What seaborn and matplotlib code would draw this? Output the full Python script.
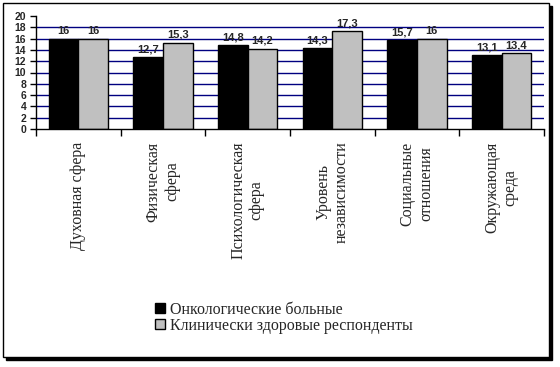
import numpy as np
import pandas as pd
import matplotlib
matplotlib.use("Agg")
import matplotlib.pyplot as plt
import seaborn as sns
from matplotlib.patches import Rectangle

# chart data
categories = ["Духовная сфера", "Физическая\nсфера", "Психологическая\nсфера",
              "Уровень\nнезависимости", "Социальные\nотношения", "Окружающая\nсреда"]
onco = [16, 12.7, 14.8, 14.3, 15.7, 13.1]
healthy = [16, 15.3, 14.2, 17.3, 16, 13.4]
series_names = ["Онкологические больные", "Клинически здоровые респонденты"]
y_ticks = [0, 2, 4, 6, 8, 10, 12, 14, 16, 18, 20]

df = pd.DataFrame({
    "category": categories * 2,
    "value": onco + healthy,
    "group": [series_names[0]] * len(categories) + [series_names[1]] * len(categories),
})

sns.set_style("white")
plt.rcParams["font.family"] = ["Liberation Serif", "DejaVu Serif"]

fig = plt.figure(figsize=(5.6, 3.67), dpi=100)

# outer frame with shadow
W, H = 560, 367
fig.patches.append(Rectangle((6 / W, 1 - 360 / H), 546 / W, 354 / H, transform=fig.transFigure,
                             facecolor="black", edgecolor="black", zorder=-2))
fig.patches.append(Rectangle((3 / W, 1 - 357 / H), 546 / W, 354 / H, transform=fig.transFigure,
                             facecolor="white", edgecolor="black", lw=1, zorder=-1))

ax = fig.add_axes([36 / W, 1 - 129 / H, 508 / W, 113 / H])
ax.set_facecolor("none")
ax.set_zorder(1)

sns.barplot(data=df, x="category", y="value", hue="group",
            palette=["black", "#c0c0c0"], edgecolor="black", linewidth=1,
            width=0.7, gap=0, ax=ax, legend=True)

for cont in ax.containers:
    labels = [("%g" % b.get_height()).replace(".", ",") for b in cont]
    ax.bar_label(cont, labels=labels, padding=2, fontsize=8, fontweight="bold",
                 family="Liberation Sans")

ax.set_ylim(0, 20)
ax.set_xlim(-0.5, len(categories) - 0.5)
ax.set_yticks(y_ticks)
ax.set_yticklabels([str(v) for v in y_ticks], fontsize=7.5, fontweight="bold",
                   family="Liberation Sans")
ax.tick_params(axis="y", direction="out", length=4, width=1, color="black", pad=3, left=True)

ax.set_xticks(range(len(categories)))
ax.set_xticklabels(categories, rotation=90, fontsize=11.5, va="top", ha="center",
                   multialignment="center")
ax.tick_params(axis="x", length=0, pad=9)
ax.set_xticks(np.arange(-0.5, len(categories)), minor=True)
ax.tick_params(axis="x", which="minor", direction="out", length=5, width=1, color="black", bottom=True)

ax.yaxis.grid(True, color="#000080", lw=1)
ax.set_axisbelow(True)
gl = ax.get_ygridlines()
gl[0].set_visible(False)
gl[-1].set_visible(False)

ax.set_xlabel("")
ax.set_ylabel("")
for s in ["top", "right"]:
    ax.spines[s].set_visible(False)
for s in ["left", "bottom"]:
    ax.spines[s].set_color("black")
    ax.spines[s].set_linewidth(1)

handles, lbls = ax.get_legend_handles_labels()
ax.legend(handles, lbls, loc="upper left", bbox_to_anchor=(147 / W, 1 - 294 / H),
          bbox_transform=fig.transFigure, frameon=False, fontsize=11.5,
          handlelength=0.6, handleheight=0.6, handletextpad=0.35, labelspacing=0.0,
          borderpad=0)

fig.savefig("out.png", dpi=100)
